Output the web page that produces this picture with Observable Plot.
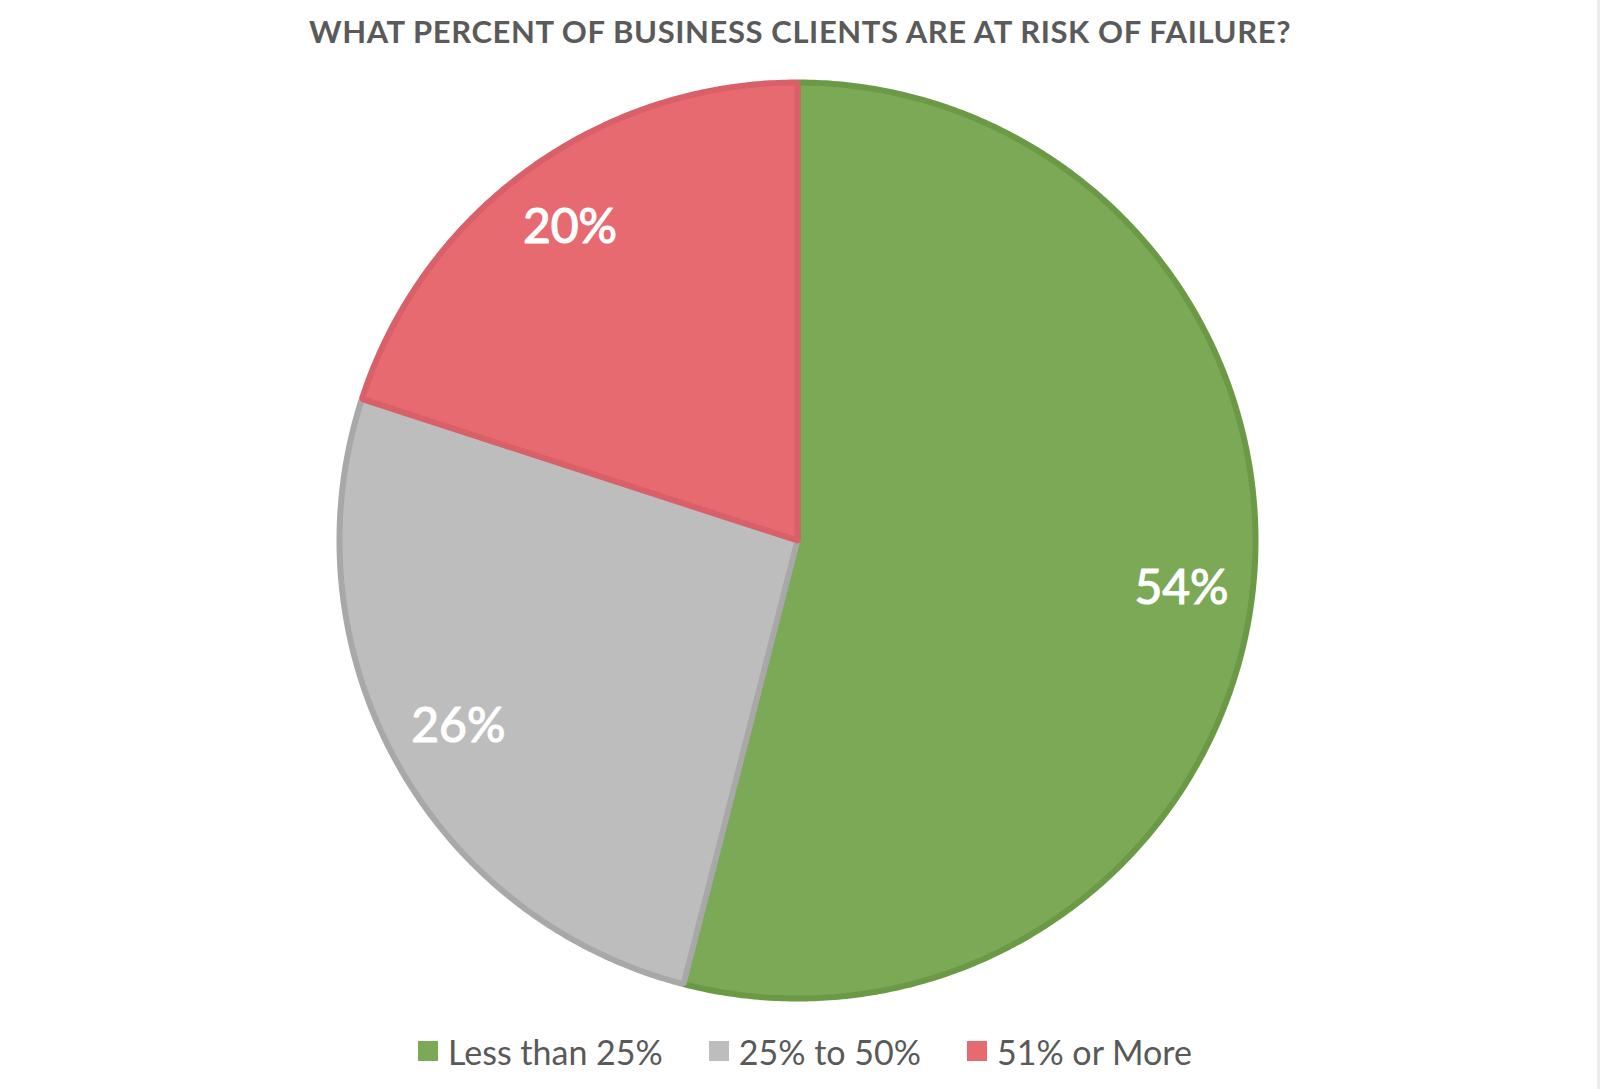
<!DOCTYPE html>
<html>
<head>
<meta charset="utf-8">
<script src="https://cdn.jsdelivr.net/npm/d3@7"></script>
<script src="https://cdn.jsdelivr.net/npm/@observablehq/plot@0.6"></script>
<style>
  html, body { margin: 0; padding: 0; background: #fff; }
  body { width: 1600px; height: 1089px; position: relative; overflow: hidden; font-family: Lato, "Open Sans", sans-serif; }
  #title { height: 62px; line-height: 62px; text-align: center; color: #5a5a5a; font-weight: 700; font-size: 31px; letter-spacing: 0.6px; }
  #chart svg { display: block; }
  #legend { height: 62px; display: flex; justify-content: center; align-items: center; gap: 46px; color: #595959; font-size: 34px; padding-left: 10px; }
  .item { display: flex; align-items: center; gap: 10px; }
  .sw { width: 20px; height: 20px; display: inline-block; }
  #edge { position: absolute; left: 1597px; top: 0; width: 3px; height: 1089px; background: #ebebeb; }
</style>
</head>
<body>
<div id="title">WHAT PERCENT OF BUSINESS CLIENTS ARE AT RISK OF FAILURE?</div>
<div id="chart"></div>
<div id="legend"></div>
<div id="edge"></div>
<script>
const categories = ["Less than 25%", "25% to 50%", "51% or More"];
const values = [54, 26, 20];
const fills = ["#7ba955", "#bdbdbd", "#e86a71"];
const strokes = ["#6b9946", "#a8a8a8", "#d95f68"];

const W = 1600, H = 958;
const R = 458;          // px per unit radius
const cx = 797, cy = 478; // pie centre in svg pixels

const total = d3.sum(values);
let acc = 0;
const slices = categories.map((c, i) => {
  const a0 = acc / total * 2 * Math.PI;
  acc += values[i];
  const a1 = acc / total * 2 * Math.PI;
  const pts = [{x: 0, y: 0}];
  const n = Math.max(8, Math.ceil((a1 - a0) / (2 * Math.PI) * 720));
  for (let k = 0; k <= n; k++) {
    const a = a0 + (a1 - a0) * k / n;
    pts.push({x: Math.sin(a), y: Math.cos(a)});
  }
  pts.push({x: 0, y: 0});
  const am = (a0 + a1) / 2;
  return {cat: c, value: values[i], pts, lx: 0.845 * Math.sin(am), ly: 0.845 * Math.cos(am), fill: fills[i], stroke: strokes[i]};
});

const marks = slices.map(s => Plot.line(s.pts, {
  x: "x", y: "y", fill: s.fill, stroke: s.stroke, strokeWidth: 6, strokeLinejoin: "miter", curve: "linear"
}));
marks.push(Plot.text(slices, {
  x: "lx", y: "ly", text: d => d.value + "%", fill: "white", stroke: "white", strokeWidth: 1.2,
  fontSize: 48, fontFamily: "Lato, sans-serif", textAnchor: "middle", lineAnchor: "middle"
}));

const plot = Plot.plot({
  width: W, height: H,
  margin: 0,
  x: {domain: [-cx / R, (W - cx) / R], range: [0, W], axis: null},
  y: {domain: [-(H - cy) / R, cy / R], range: [H, 0], axis: null},
  style: {background: "white", overflow: "visible"},
  marks
});
document.getElementById("chart").appendChild(plot);

const legend = document.getElementById("legend");
categories.forEach((c, i) => {
  const it = document.createElement("div");
  it.className = "item";
  const sw = document.createElement("span");
  sw.className = "sw";
  sw.style.background = fills[i];
  const t = document.createElement("span");
  t.textContent = c;
  it.appendChild(sw); it.appendChild(t);
  legend.appendChild(it);
});
</script>
</body>
</html>
